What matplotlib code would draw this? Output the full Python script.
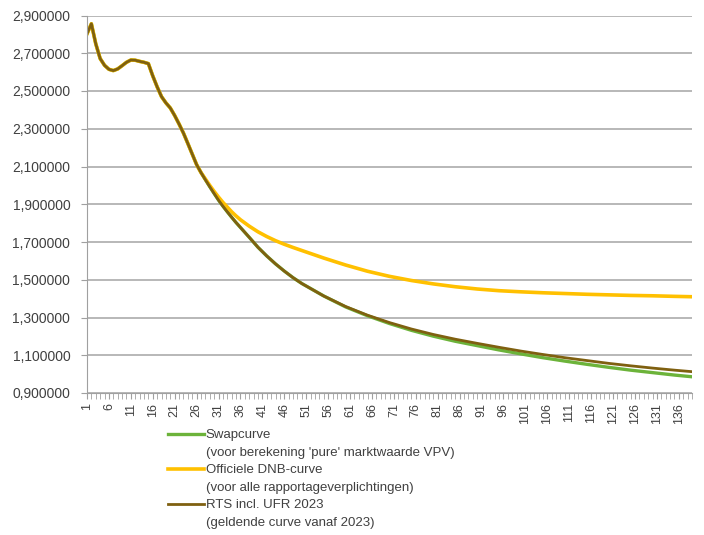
import matplotlib
matplotlib.use("Agg")
import matplotlib.pyplot as plt
from matplotlib.lines import Line2D
from matplotlib.ticker import FuncFormatter

# looptijd (jaren) en rentes
jaren = list(range(1, 37)) + [38, 40, 42, 44, 46, 48, 50] + list(range(55, 136, 5)) + [139]

rts = [2.803, 2.856, 2.750, 2.672, 2.636, 2.615, 2.608, 2.617, 2.634, 2.652,
       2.664, 2.663, 2.657, 2.652, 2.645, 2.580, 2.522, 2.470, 2.437, 2.410,
       2.370, 2.325, 2.277, 2.222, 2.166, 2.110, 2.068, 2.030, 1.993, 1.957,
       1.922, 1.890, 1.860, 1.831, 1.803, 1.777,
       1.725, 1.672, 1.626, 1.584, 1.546, 1.511, 1.480,
       1.414, 1.358, 1.312, 1.273, 1.239, 1.210, 1.185, 1.163, 1.142, 1.122,
       1.104, 1.087, 1.072, 1.057, 1.044, 1.032, 1.021, 1.013]

dnb = [2.803, 2.856, 2.750, 2.672, 2.636, 2.615, 2.608, 2.617, 2.634, 2.652,
       2.664, 2.663, 2.657, 2.652, 2.645, 2.580, 2.522, 2.470, 2.437, 2.410,
       2.370, 2.325, 2.277, 2.222, 2.166, 2.110, 2.068, 2.034, 2.000, 1.968,
       1.938, 1.910, 1.885, 1.860, 1.838, 1.818,
       1.784, 1.754, 1.729, 1.707, 1.688, 1.671, 1.655,
       1.615, 1.578, 1.545, 1.518, 1.496, 1.478, 1.463, 1.451, 1.442, 1.436,
       1.431, 1.427, 1.423, 1.420, 1.417, 1.415, 1.412, 1.410]

swap = [2.803, 2.856, 2.750, 2.672, 2.636, 2.615, 2.608, 2.617, 2.634, 2.652,
        2.664, 2.663, 2.657, 2.652, 2.645, 2.580, 2.522, 2.470, 2.437, 2.410,
        2.370, 2.325, 2.277, 2.222, 2.166, 2.110, 2.068, 2.030, 1.993, 1.957,
        1.922, 1.890, 1.860, 1.831, 1.803, 1.777,
        1.725, 1.672, 1.626, 1.584, 1.546, 1.511, 1.480,
        1.414, 1.356, 1.309, 1.268, 1.232, 1.201, 1.174, 1.151, 1.128, 1.107,
        1.087, 1.069, 1.052, 1.036, 1.021, 1.008, 0.995, 0.986]

labels = ["Swapcurve", "(voor berekening 'pure' marktwaarde VPV)",
          "Officiele DNB-curve", "(voor alle rapportageverplichtingen)",
          "RTS incl. UFR 2023", "(geldende curve vanaf 2023)"]

groen = "#6cb33a"
geel = "#ffc000"
bruin = "#7f6010"
tekst = "#404040"

plt.rcParams['font.family'] = ['Liberation Sans', 'DejaVu Sans']

fig = plt.figure(figsize=(7.04, 5.35), dpi=100)
ax = fig.add_axes([87 / 704, 1 - 393 / 535, 605 / 704, 377.5 / 535])

# de drie curves (bruin als laatste, bovenop)
ax.plot(jaren, swap, color=groen, linewidth=2.4)
ax.plot(jaren, dnb, color=geel, linewidth=2.6)
ax.plot(jaren, rts, color=bruin, linewidth=2.0)

ax.set_xlim(1, 139)
ax.set_ylim(0.9, 2.9)
ax.set_yticks([0.9 + 0.2 * i for i in range(11)])
ax.yaxis.set_major_formatter(FuncFormatter(lambda v, p: f"{v:.6f}".replace(".", ",")))
ax.grid(axis='y', color='#b8b8b8', linewidth=1.4)
ax.set_axisbelow(True)

# tick marks op elk jaar, labels om de 5 jaar
ax.set_xticks(list(range(1, 140)), minor=True)
ax.set_xticks(list(range(1, 137, 5)))
ax.tick_params(axis='x', which='both', direction='out', length=4, color='#a0a0a0',
               labelrotation=90, labelsize=9, labelcolor=tekst, pad=3)
ax.tick_params(axis='y', length=4, color='#a0a0a0', labelsize=10, labelcolor=tekst, pad=8)

for s in ['top', 'right']:
    ax.spines[s].set_visible(False)
ax.spines['left'].set_color('#a0a0a0')
ax.spines['bottom'].set_color('#a0a0a0')

# legenda met twee regels per curve
leeg = Line2D([], [], color='none')
handles = [Line2D([], [], color=groen, linewidth=2.4), leeg,
           Line2D([], [], color=geel, linewidth=2.6), leeg,
           Line2D([], [], color=bruin, linewidth=2.0), leeg]
fig.legend(handles, labels, loc='upper left', bbox_to_anchor=(168 / 704, 1 - 429 / 535),
           frameon=False, fontsize=9.5, labelcolor=tekst, handlelength=2.7, handletextpad=0.15,
           labelspacing=0.4, borderpad=0, borderaxespad=0)

fig.savefig("out.png", dpi=100)
